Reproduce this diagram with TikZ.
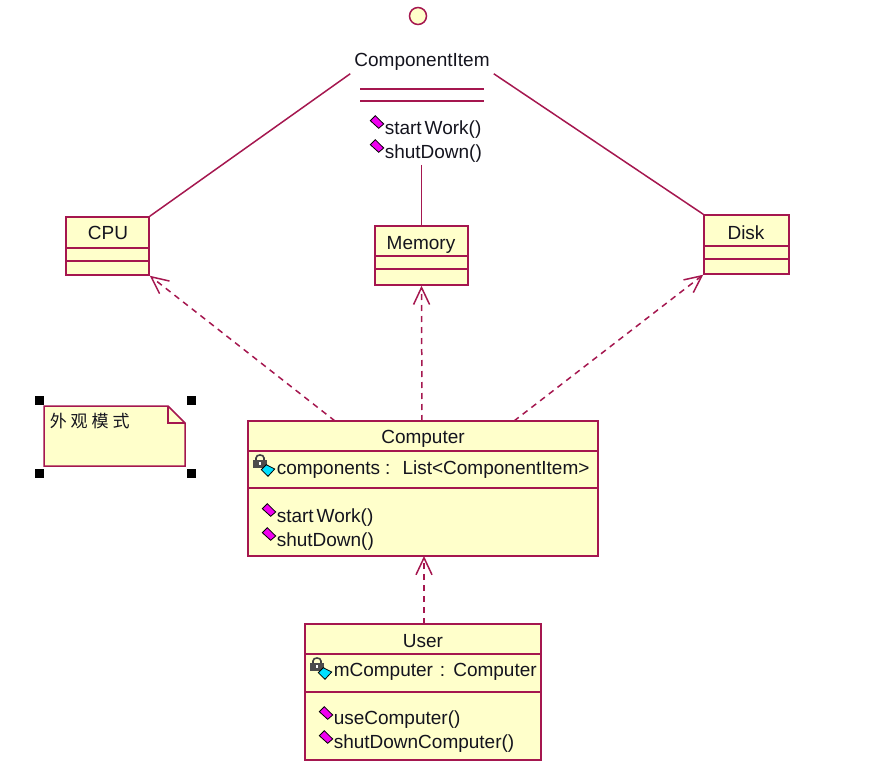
\documentclass[tikz,border=0pt]{standalone}
\usepackage{fontspec}
\setmainfont{Liberation Sans}
\newfontfamily\cjk{Noto Sans CJK SC}
\usetikzlibrary{arrows.meta}

\definecolor{umlline}{HTML}{A5174F}
\definecolor{umlfill}{HTML}{FFFFCB}
\definecolor{umltext}{HTML}{14141E}
\definecolor{opercolor}{HTML}{F000F0}
\definecolor{attrcolor}{HTML}{00E0FF}

\tikzset{
  opericon/.pic={
    \draw[black,line width=0.8pt,fill=opercolor] (-6.7,-1.3) -- (-1.7,-6.3) -- (6.7,2) -- (1.7,6.3) -- cycle;
  },
  attricon/.pic={
    \draw[black!75,line width=1.6pt] (-7,-3) -- (-7,-5) .. controls (-7,-9) and (1,-9) .. (1,-5) -- (1,-3);
    \fill[black!70] (-10,-3) rectangle (4,5);
    \fill[white] (-4,-1) rectangle (-2,2);
    \draw[black,line width=0.8pt,fill=attrcolor] (-1.7,6.7) -- (3.3,1.7) -- (11.7,6) -- (5,13.3) -- cycle;
  }
}

\begin{document}
\begin{tikzpicture}[x=1pt,y=-1pt,font=\fontsize{19}{20}\selectfont,text=umltext,
                    line width=1.5pt,color=umlline]
  \tikzstyle{umlclass}=[draw=umlline,fill=umlfill,rectangle,inner sep=0pt]
  \tikzstyle{title}=[anchor=base,inner sep=0pt,text=umltext]
  \tikzstyle{member}=[anchor=base west,inner sep=0pt,text=umltext]
  \tikzstyle{handle}=[fill=black,draw=none,inner sep=0pt,minimum size=9pt]
  \tikzstyle{dep}=[dash pattern=on 6pt off 5pt,-{Straight Barb[length=17pt,width=16pt]}]

  \useasboundingbox (0,0) rectangle (895,778);

  % interface
  \node[circle,draw=umlline,fill=umlfill,inner sep=0pt,minimum size=17pt] (lollipop) at (418,16) {};
  \node[inner sep=0pt,minimum width=142pt,minimum height=24pt] (item) at (422,61) {};
  \node[title] (itemtitle) at (422,67) {ComponentItem};
  \draw (360,89) -- (484,89);
  \draw (360,101) -- (484,101);
  \pic at (377,122) {opericon};
  \pic at (377,146) {opericon};
  \node[member] (itemstart) at (384,135) {start\kern3pt Work()};
  \node[member] (itemshut)  at (384,159) {shutDown()};
  \coordinate (itemfoot) at (421.5,165);

  % parts
  \node[umlclass,minimum width=83pt,minimum height=58pt] (cpu)    at (107.5,246) {};
  \node[umlclass,minimum width=93pt,minimum height=59pt] (memory) at (421.5,255.5) {};
  \node[umlclass,minimum width=85pt,minimum height=59pt] (disk)   at (746.5,244.5) {};
  \draw (66,248) -- (149,248) (66,261) -- (149,261);
  \draw (375,256) -- (468,256) (375,269) -- (468,269);
  \draw (704,246) -- (789,246) (704,259) -- (789,259);
  \node[title] (cputitle)    at (108,240) {CPU};
  \node[title] (memorytitle) at (421,250) {Memory};
  \node[title] (disktitle)   at (746,240) {Disk};

  % facade
  \node[umlclass,minimum width=350pt,minimum height=135pt] (computer) at (423,488.5) {};
  \draw (248,451) -- (598,451) (248,488) -- (598,488);
  \node[title] (computertitle) at (423,443) {Computer};
  \pic at (263,463) {attricon};
  \pic at (269,510) {opericon};
  \pic at (269,534) {opericon};
  \node[member] (components)    at (276,474) {components\kern5pt : \kern5pt List<ComponentItem>};
  \node[member] (computerstart) at (276,522) {start\kern3pt Work()};
  \node[member] (computershut)  at (276,546) {shutDown()};
  \coordinate (cpuleg)  at (335,421);
  \coordinate (memleg)  at (422,421);
  \coordinate (diskleg) at (514,421);
  \coordinate (compfoot) at (424,556);

  % client
  \node[umlclass,minimum width=236pt,minimum height=136pt] (user) at (423,692) {};
  \draw (305,654) -- (541,654) (305,692) -- (541,692);
  \node[title] (usertitle) at (423,647) {User};
  \pic at (320,666) {attricon};
  \pic at (326,713) {opericon};
  \pic at (326,737) {opericon};
  \node[member] (mcomputer) at (333,676) {mComputer\kern7pt : \kern1pt Computer};
  \node[member] (usecomp)   at (333,724) {useComputer()};
  \node[member] (shutcomp)  at (333,748) {shutDownComputer()};
  \coordinate (userleg) at (424,624);

  % note
  \draw[fill=umlfill] (44,406) -- (168,406) -- (185,423) -- (185,466) -- (44,466) -- cycle;
  \draw (168,406) -- (168,423) -- (185,423);
  \node[member] (notetext) at (49,427) {\cjk\fontsize{17}{20}\selectfont 外\kern4pt 观\kern4pt 模\kern4pt 式};
  \node[handle] (h1) at (39,400) {};
  \node[handle] (h2) at (191,400) {};
  \node[handle] (h3) at (39,473) {};
  \node[handle] (h4) at (191,473) {};

  \path (item.south west) edge (cpu.north east)
        (item.south east) edge (disk.north west)
        (itemfoot)        edge (memory.north);

  \path[dep] (cpuleg)  edge (cpu.south east)
             (memleg)  edge (memory.south)
             (diskleg) edge (disk.south west)
             (userleg) edge (compfoot);
\end{tikzpicture}
\end{document}
